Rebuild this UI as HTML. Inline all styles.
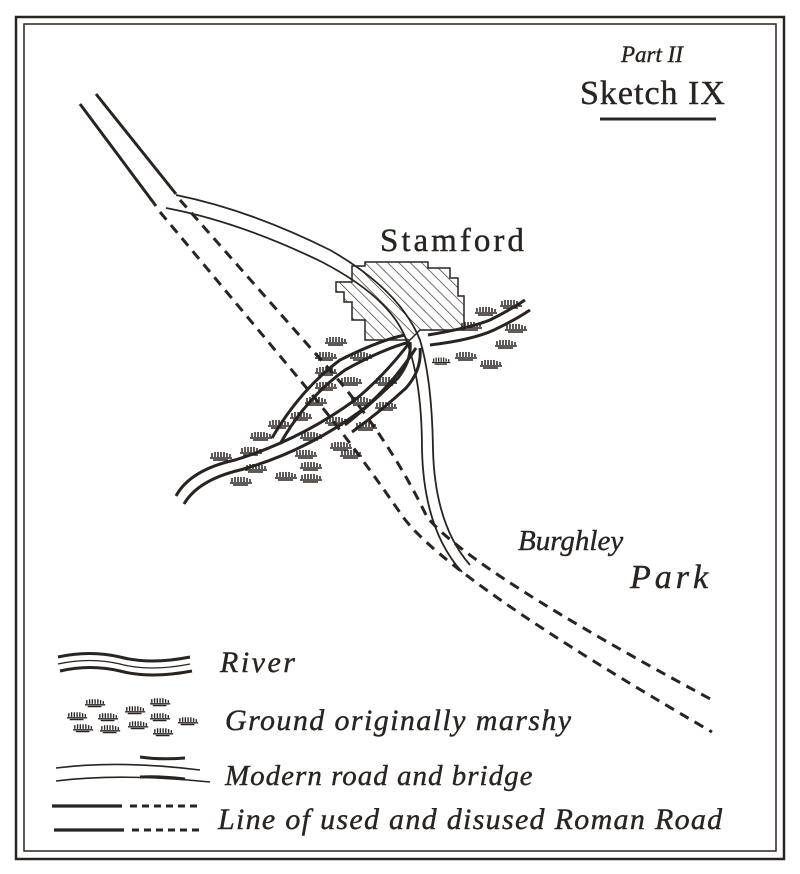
<!DOCTYPE html>
<html><head><meta charset="utf-8"><style>
html,body{margin:0;padding:0;background:#fff;}
svg{display:block;}
text{font-family:"Liberation Serif",serif;fill:#2a2420;stroke:#2a2420;stroke-width:0.4;}
</style></head><body>
<svg width="800" height="874" viewBox="0 0 800 874" xmlns="http://www.w3.org/2000/svg">
<defs>
<symbol id="m" viewBox="0 0 24 10" overflow="visible">
<path d="M0 8 H22 M2 7 V3 M5 7 V2 M8 7 V2 M11 7 V2 M14 7 V2 M17 7 V3 M20 7 V4 M3 10 H18" stroke="#2a2420" stroke-width="1.5" fill="none"/>
</symbol>
<pattern id="h" width="8" height="8" patternUnits="userSpaceOnUse" patternTransform="rotate(-45)">
<line x1="0" y1="0" x2="0" y2="8" stroke="#2a2420" stroke-width="1.3"/>
</pattern>
</defs>
<rect x="0" y="0" width="800" height="874" fill="#fff"/>
<rect x="16" y="17" width="768" height="842" fill="none" stroke="#2a2420" stroke-width="2.5"/>
<rect x="24" y="24" width="752" height="827" fill="none" stroke="#2a2420" stroke-width="1.5"/>

<!-- title -->
<text x="621" y="62" font-size="23" font-style="italic">Part II</text>
<text x="580" y="104" font-size="34" font-family="Liberation Sans,sans-serif" letter-spacing="1">Sketch IX</text>
<line x1="600" y1="119" x2="716" y2="119" stroke="#2a2420" stroke-width="3"/>

<!-- town -->
<path d="M352 266 H365 V262 H428 V268 H450 V278 H458 V296 H464 V330 H420 L410 340 H365 V320 H352 V302 H344 V292 H336 V282 H352 Z" fill="url(#h)" stroke="#2a2420" stroke-width="1.5"/>
<text x="380" y="251" font-size="33" font-family="Liberation Sans,sans-serif" letter-spacing="3">Stamford</text>

<!-- roman road solid + dashed -->
<g stroke="#2a2420" stroke-width="3" fill="none">
<path d="M80 104 L156 206"/>
<path d="M96 94 L176 194"/>
<path d="M160 212 L300 380 Q350 440 403 517 Q450 580 712 732" stroke-dasharray="10 7"/>
<path d="M180 200 L330 370 Q390 440 427 517 Q470 570 716 702" stroke-dasharray="10 7"/>
</g>

<!-- modern road -->
<g stroke="#2a2420" stroke-width="1.8" fill="none">
<path d="M176 195 Q250 210 330 250 Q400 290 420 340 Q432 380 433 450 Q435 525 470 565"/>
<path d="M166 208 Q240 222 322 262 Q395 300 408 345 Q422 385 422 450 Q424 530 462 572"/>
</g>

<!-- river -->
<g stroke="#2a2420" stroke-width="3" fill="none">
<path d="M176 496 Q190 470 235 460 Q300 440 355 400 Q385 375 410 342"/>
<path d="M184 504 Q198 480 240 470 Q305 452 362 410 Q392 385 416 348"/>
<path d="M272 438 Q300 390 340 360 Q380 340 405 335"/>
<path d="M280 444 Q306 398 345 370 Q385 348 410 342"/>
<path d="M410 342 Q412 360 398 378 Q370 405 345 425"/>
<path d="M420 348 Q422 370 406 388 Q380 412 352 432"/>
<path d="M428 335 Q470 328 490 320 Q510 310 525 300"/>
<path d="M430 345 Q472 340 494 330 Q515 320 530 310"/>
</g>

<!-- marsh -->
<g>
<use href="#m" x="325" y="335" width="24" height="10"/>
<use href="#m" x="315" y="350" width="24" height="10"/>
<use href="#m" x="350" y="350" width="24" height="10"/>
<use href="#m" x="315" y="365" width="24" height="10"/>
<use href="#m" x="340" y="375" width="24" height="10"/>
<use href="#m" x="375" y="375" width="24" height="10"/>
<use href="#m" x="315" y="380" width="24" height="10"/>
<use href="#m" x="305" y="395" width="24" height="10"/>
<use href="#m" x="350" y="395" width="24" height="10"/>
<use href="#m" x="375" y="400" width="24" height="10"/>
<use href="#m" x="290" y="410" width="24" height="10"/>
<use href="#m" x="325" y="415" width="24" height="10"/>
<use href="#m" x="355" y="420" width="24" height="10"/>
<use href="#m" x="268" y="418" width="24" height="10"/>
<use href="#m" x="250" y="430" width="24" height="10"/>
<use href="#m" x="300" y="430" width="24" height="10"/>
<use href="#m" x="240" y="445" width="24" height="10"/>
<use href="#m" x="295" y="448" width="24" height="10"/>
<use href="#m" x="330" y="440" width="24" height="10"/>
<use href="#m" x="210" y="450" width="24" height="10"/>
<use href="#m" x="245" y="462" width="24" height="10"/>
<use href="#m" x="300" y="460" width="24" height="10"/>
<use href="#m" x="340" y="448" width="24" height="10"/>
<use href="#m" x="230" y="475" width="24" height="10"/>
<use href="#m" x="275" y="470" width="24" height="10"/>
<use href="#m" x="300" y="472" width="24" height="10"/>
<use href="#m" x="500" y="298" width="24" height="10"/>
<use href="#m" x="475" y="305" width="24" height="10"/>
<use href="#m" x="460" y="320" width="24" height="10"/>
<use href="#m" x="505" y="322" width="24" height="10"/>
<use href="#m" x="495" y="338" width="24" height="10"/>
<use href="#m" x="455" y="350" width="24" height="10"/>
<use href="#m" x="480" y="358" width="24" height="10"/>
<use href="#m" x="432" y="355" width="20" height="10"/>
</g>

<text x="518" y="550" font-size="29" font-style="italic">Burghley</text>
<text x="630" y="588" font-size="34" font-style="italic" letter-spacing="4">Park</text>

<!-- legend -->
<g stroke="#2a2420" fill="none">
<path d="M58 657 Q90 650 120 657 Q150 665 190 657" stroke-width="3"/>
<path d="M58 664 Q90 657 120 664 Q150 672 190 664" stroke-width="1.3"/>
<path d="M60 671 Q90 664 120 671 Q150 679 192 671" stroke-width="3"/>
<path d="M56 768 Q120 760 200 770" stroke-width="1.6"/>
<path d="M56 781 Q120 773 210 782" stroke-width="1.6"/>
<path d="M140 757 Q160 760 185 758" stroke-width="3"/>
<path d="M140 777 Q160 776 185 779" stroke-width="3"/>
<path d="M52 806 H122" stroke-width="3.2"/>
<path d="M130 806 H200" stroke-width="3" stroke-dasharray="7 5"/>
<path d="M54 830 H124" stroke-width="3.2"/>
<path d="M132 830 H200" stroke-width="3" stroke-dasharray="7 5"/>
</g>
<use href="#m" x="85" y="697" width="22" height="10"/>
<use href="#m" x="67" y="710" width="22" height="10"/>
<use href="#m" x="98" y="711" width="22" height="10"/>
<use href="#m" x="125" y="704" width="22" height="10"/>
<use href="#m" x="150" y="696" width="22" height="10"/>
<use href="#m" x="150" y="711" width="22" height="10"/>
<use href="#m" x="178" y="715" width="22" height="10"/>
<use href="#m" x="73" y="722" width="22" height="10"/>
<use href="#m" x="100" y="723" width="22" height="10"/>
<use href="#m" x="128" y="719" width="22" height="10"/>
<use href="#m" x="153" y="726" width="22" height="10"/>
<text x="220" y="672" font-size="30" font-style="italic" letter-spacing="2.5">River</text>
<text x="225" y="730" font-size="30" font-style="italic" letter-spacing="1.4">Ground originally marshy</text>
<text x="225" y="785" font-size="29" font-style="italic" letter-spacing="1">Modern road and bridge</text>
<text x="218" y="829" font-size="30" font-style="italic" letter-spacing="1.3">Line of used and disused Roman Road</text>
</svg>
</body></html>
